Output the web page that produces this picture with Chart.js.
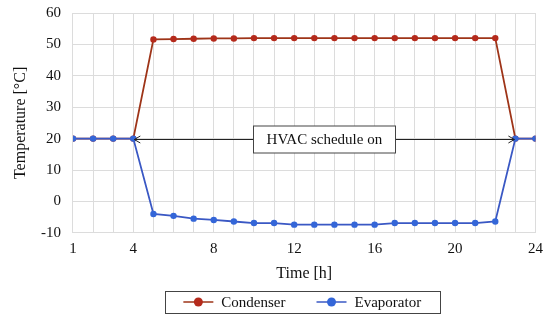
<!DOCTYPE html>
<html>
<head>
<meta charset="utf-8">
<script src="https://cdn.jsdelivr.net/npm/chart.js@4"></script>
<style>
html,body{margin:0;padding:0;background:#fff;}
#wrap{width:550px;height:321px;}
</style>
</head>
<body>
<div id="wrap"><canvas id="c" width="550" height="321"></canvas></div>
<script>
const hours = [1,2,3,4,5,6,7,8,9,10,11,12,13,14,15,16,17,18,19,20,21,22,23,24];
const condenser = [20,20,20,20,51.6,51.7,51.8,51.9,51.9,52,52,52,52,52,52,52,52,52,52,52,52,52,20,20];
const evaporator = [20,20,20,20,-4.0,-4.6,-5.5,-5.9,-6.4,-6.9,-6.9,-7.4,-7.4,-7.4,-7.4,-7.4,-6.9,-6.9,-6.9,-6.9,-6.9,-6.4,20,20];
const xTickLabels = [1,4,8,12,16,20,24];
const seriesNames = ['Condenser','Evaporator'];
const scheduleStart = 4, scheduleEnd = 23, scheduleLevel = 20;
const scheduleText = 'HVAC schedule on';

const FONT = '"Liberation Serif", "Times New Roman", serif';
const condLine = '#9e3418', condPoint = '#b52a1c';
const evapLine = '#3a58c4', evapPoint = '#3466d8';

const schedulePlugin = {
  id:'schedule',
  afterDatasetsDraw(chart){
    const {ctx, scales:{x,y}} = chart;
    const x1 = x.getPixelForValue(scheduleStart), x2 = x.getPixelForValue(scheduleEnd);
    const yy = Math.round(y.getPixelForValue(scheduleLevel))+0.5;
    ctx.save();
    ctx.strokeStyle = '#222'; ctx.lineWidth = 1;
    ctx.beginPath(); ctx.moveTo(x1+1,yy); ctx.lineTo(x2-1,yy); ctx.stroke();
    const ah = 6;
    ctx.beginPath();
    ctx.moveTo(x1+1+ah, yy-3.5); ctx.lineTo(x1+1, yy); ctx.lineTo(x1+1+ah, yy+3.5);
    ctx.moveTo(x2-1-ah, yy-3.5); ctx.lineTo(x2-1, yy); ctx.lineTo(x2-1-ah, yy+3.5);
    ctx.stroke();
    ctx.font = '15px ' + FONT;
    const cx = (x1+x2)/2;
    const w = 142, h = 27;
    ctx.fillStyle = '#fff';
    ctx.fillRect(cx-w/2, yy-h/2, w, h);
    ctx.strokeStyle = '#444';
    ctx.strokeRect(Math.round(cx-w/2)+0.5, Math.round(yy-h/2), w, h);
    ctx.fillStyle = '#111'; ctx.textAlign='center'; ctx.textBaseline='middle';
    ctx.fillText(scheduleText, cx, yy+1);
    ctx.restore();
  }
};

const legendPlugin = {
  id:'boxLegend',
  afterDraw(chart){
    const ctx = chart.ctx, ca = chart.chartArea;
    const cx = (ca.left+ca.right)/2 - 2;
    const cy = 302;
    ctx.save();
    ctx.font = '15px ' + FONT;
    const mw = 30, g1 = 8, g2 = 31;
    const cols = [[condLine,condPoint],[evapLine,evapPoint]];
    const tw = seriesNames.map(n=>ctx.measureText(n).width);
    const total = mw + g1 + tw[0] + g2 + mw + g1 + tw[1];
    let xx = cx - total/2;
    const boxL = Math.round(xx - 18)+0.5, boxR = Math.round(xx + total + 19)+0.5;
    ctx.strokeStyle = '#444'; ctx.lineWidth = 1;
    ctx.strokeRect(boxL, Math.round(cy-11)+0.5, boxR-boxL, 22);
    seriesNames.forEach((n,i)=>{
      ctx.strokeStyle = cols[i][0]; ctx.lineWidth = 1.5;
      ctx.beginPath(); ctx.moveTo(xx, cy); ctx.lineTo(xx+mw, cy); ctx.stroke();
      ctx.fillStyle = cols[i][1];
      ctx.beginPath(); ctx.arc(xx+mw/2, cy, 4.5, 0, Math.PI*2); ctx.fill();
      xx += mw + g1;
      ctx.fillStyle = '#111'; ctx.textAlign='left'; ctx.textBaseline='middle';
      ctx.fillText(n, xx, cy+1);
      xx += tw[i] + g2;
    });
    ctx.restore();
  }
};

new Chart(document.getElementById('c'), {
  type:'line',
  data:{
    labels: hours,
    datasets:[
      {label:seriesNames[0], data: hours.map((h,i)=>({x:h,y:condenser[i]})), borderColor:condLine, backgroundColor:condPoint,
       pointBackgroundColor:condPoint, pointBorderWidth:0, pointRadius:3.2, borderWidth:1.8, order:1},
      {label:seriesNames[1], data: hours.map((h,i)=>({x:h,y:evaporator[i]})), borderColor:evapLine, backgroundColor:evapPoint,
       pointBackgroundColor:evapPoint, pointBorderWidth:0, pointRadius:3.2, borderWidth:1.8, order:0}
    ]
  },
  options:{
    responsive:false, animation:false,
    layout:{padding:{left:13, right:14, top:0, bottom:38}},
    plugins:{
      tooltip:{enabled:false},
      legend:{display:false}
    },
    scales:{
      x:{type:'linear', min:1, max:24,
         grid:{color:'#dcdcdc', drawTicks:false}, border:{color:'#dcdcdc'},
         ticks:{stepSize:1, autoSkip:false, maxRotation:0, padding:7, font:{family:FONT,size:15}, color:'#111',
                callback:v=> xTickLabels.includes(v) ? String(v) : ''},
         title:{display:true, text:'Time [h]', font:{family:FONT,size:16}, color:'#111', padding:{top:-1,bottom:0}}},
      y:{min:-10, max:60,
         afterFit(scale){ scale.paddingTop = 13; },
         grid:{color:'#dcdcdc', drawTicks:false}, border:{color:'#dcdcdc'},
         ticks:{stepSize:10, padding:12, font:{family:FONT,size:15}, color:'#111'},
         title:{display:true, text:'Temperature [°C]', font:{family:FONT,size:16, lineHeight:1}, color:'#111', padding:{top:0,bottom:0}}}
    }
  },
  plugins:[schedulePlugin, legendPlugin]
});
</script>
</body>
</html>
